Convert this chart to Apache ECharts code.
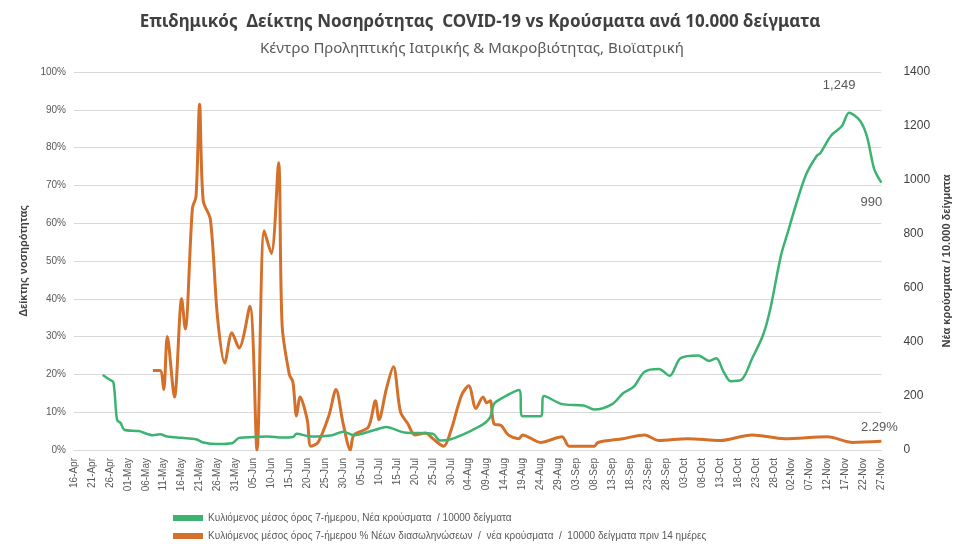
<!DOCTYPE html>
<html lang="el">
<head>
  <meta charset="UTF-8" />
  <title>Επιδημικός Δείκτης Νοσηρότητας</title>
  <script src="https://cdn.jsdelivr.net/npm/echarts@6/dist/echarts.min.js"></script>
  <style>
    html, body { margin: 0; padding: 0; background: #fff; }
    #main { width: 960px; height: 557px; }
  </style>
</head>
<body>
  <div id="main"></div>
  <script type="text/javascript">
    // ημερομηνίες από 16-Apr έως 27-Nov
    var months = ['Jan', 'Feb', 'Mar', 'Apr', 'May', 'Jun', 'Jul', 'Aug', 'Sep', 'Oct', 'Nov', 'Dec'];
    var dates = [];
    for (var i = 0; i <= 225; i++) {
      var dt = new Date(2020, 3, 16 + i);
      var dd = dt.getDate();
      dates.push((dd < 10 ? '0' + dd : dd) + '-' + months[dt.getMonth()]);
    }

    // [δείκτης ημέρας, τιμή] - κρούσματα / 10000 δείγματα (δεξιός άξονας)
    var casesData = [
      [8, 278], [10, 260], [11, 250], [12, 111], [13, 100], [14, 75], [18, 70], [22, 55],
      [24, 58], [26, 50], [30, 45], [34, 40], [36, 28], [40, 22], [44, 25], [46, 45],
      [50, 48], [54, 50], [58, 46], [61, 48], [62, 60], [66, 50], [72, 55], [75, 68],
      [78, 55], [84, 75], [87, 85], [92, 65], [100, 60], [102, 35], [105, 40], [108, 55],
      [111, 74], [114, 95], [116, 122], [117, 170], [119, 190], [124, 222], [125, 125],
      [130, 125], [131, 200], [136, 170], [142, 165], [145, 150], [150, 170], [153, 210],
      [156, 235], [159, 290], [163, 300], [166, 275], [169, 340], [174, 350], [177, 330],
      [179, 340], [181, 290], [183, 255], [186, 260], [189, 340], [192, 425], [194, 520],
      [197, 720], [199, 810], [201, 900], [204, 1020], [207, 1090], [208, 1100],
      [211, 1165], [214, 1200], [216, 1249], [219, 1220], [221, 1160], [223, 1040], [225, 990]
    ];

    // [δείκτης ημέρας, %] - δείκτης νοσηρότητας (αριστερός άξονας)
    var rateData = [
      [22, 21], [24, 21], [25, 16], [26, 30], [28, 14], [30, 40], [31, 32], [33, 64],
      [34, 67], [35, 91.5], [36, 66], [38, 61], [40, 35], [42, 23], [44, 31], [46, 27],
      [49, 38], [51, 0], [53, 58], [55, 52], [57, 76], [58, 33], [60, 20], [61, 18],
      [62, 9], [63, 14], [65, 8], [66, 1], [68, 2], [71, 9], [73, 16], [75, 7], [77, 0],
      [78, 4], [82, 6], [84, 13], [85, 8], [87, 16], [89, 22], [91, 10], [93, 7], [95, 4],
      [98, 4.5], [100, 3], [103, 1], [105, 5], [108, 14.5], [110, 17], [112, 11],
      [114, 14], [115, 12.5], [116, 13], [117, 7], [119, 6.5], [121, 4], [124, 3],
      [125, 4], [130, 2], [136, 3.5], [138, 1], [145, 1], [146, 2], [153, 3], [159, 4],
      [163, 2.5], [171, 3], [180, 2.5], [189, 4], [198, 3], [210, 3.5], [217, 2], [225, 2.29]
    ];

    var peakIdx = 216, lastIdx = 225;
    var lblStyle = { show: true, color: '#595959', fontSize: 13 };

    var casesSeries = casesData.map(function (p) {
      if (p[0] === peakIdx) {
        return { value: p, label: Object.assign({ formatter: '1,249', position: 'top', offset: [-10, -16] }, lblStyle) };
      }
      if (p[0] === lastIdx) {
        return { value: p, label: Object.assign({ formatter: '990', position: 'bottom', offset: [-10, 8] }, lblStyle) };
      }
      return p;
    });
    var rateSeries = rateData.map(function (p) {
      if (p[0] === lastIdx) {
        return { value: p, label: Object.assign({ formatter: '2.29%', position: 'top', offset: [-2, -2] }, lblStyle) };
      }
      return p;
    });

    var myChart = echarts.init(document.getElementById('main'));
    var option = {
      animation: false,
      title: [
        {
          text: 'Επιδημικός  Δείκτης Νοσηρότητας  COVID-19 vs Κρούσματα ανά 10.000 δείγματα',
          left: 'center', top: 9,
          textStyle: { fontSize: 17, fontWeight: 'bold', color: '#404040', fontFamily: 'Noto Sans' }
        },
        {
          text: 'Κέντρο Προληπτικής Ιατρικής & Μακροβιότητας, Βιοϊατρική',
          left: 255, top: 36,
          textStyle: { fontSize: 15, fontWeight: 'normal', color: '#595959', fontFamily: 'Noto Sans' }
        }
      ],
      legend: {
        orient: 'vertical', left: 168, top: 508, itemGap: 8,
        itemWidth: 30, itemHeight: 6, icon: 'rect',
        textStyle: { fontSize: 10, color: '#595959' },
        data: [
          { name: 'Κυλιόμενος μέσος όρος 7-ήμερου, Νέα κρούσματα  / 10000 δείγματα', itemStyle: { color: '#3cb371' } },
          { name: 'Κυλιόμενος μέσος όρος 7-ήμερου % Νέων διασωληνώσεων  /  νέα κρούσματα  /  10000 δείγματα πριν 14 ημέρες', itemStyle: { color: '#d4702a' } }
        ]
      },
      grid: { left: 74, right: 78, top: 72, bottom: 107 },
      xAxis: {
        type: 'category', data: dates, boundaryGap: false,
        axisLine: { lineStyle: { color: '#d9d9d9' } },
        axisTick: { show: false },
        axisLabel: { interval: 4, rotate: 90, fontSize: 10, color: '#595959' }
      },
      yAxis: [
        {
          type: 'value', min: 0, max: 100, interval: 10,
          name: 'Δείκτης νοσηρότητας', nameLocation: 'middle', nameGap: 44, nameRotate: 90,
          nameTextStyle: { fontSize: 11, fontWeight: 'bold', color: '#404040' },
          axisLabel: { formatter: '{value}%', fontSize: 10, color: '#595959' },
          splitLine: { lineStyle: { color: '#d9d9d9' } },
          axisLine: { show: false }, axisTick: { show: false }
        },
        {
          type: 'value', min: 0, max: 1400, interval: 200,
          name: 'Νέα κρούσματα / 10.000 δείγματα', nameLocation: 'middle', nameGap: 48, nameRotate: 90,
          nameTextStyle: { fontSize: 11, fontWeight: 'bold', color: '#404040' },
          axisLabel: { formatter: function (v) { return String(v); }, fontSize: 12, color: '#404040', margin: 22 },
          splitLine: { show: false },
          axisLine: { show: false }, axisTick: { show: false }
        }
      ],
      series: [
        {
          name: 'Κυλιόμενος μέσος όρος 7-ήμερου, Νέα κρούσματα  / 10000 δείγματα',
          type: 'line', yAxisIndex: 1, data: casesSeries, showSymbol: true, symbolSize: 0, smooth: 0.3,
          lineStyle: { color: '#3cb371', width: 2.5 }, itemStyle: { color: '#3cb371' }, z: 3
        },
        {
          name: 'Κυλιόμενος μέσος όρος 7-ήμερου % Νέων διασωληνώσεων  /  νέα κρούσματα  /  10000 δείγματα πριν 14 ημέρες',
          type: 'line', yAxisIndex: 0, data: rateSeries, showSymbol: true, symbolSize: 0, smooth: 0.3,
          lineStyle: { color: '#d4702a', width: 3 }, itemStyle: { color: '#d4702a' }, z: 2
        }
      ]
    };
    myChart.setOption(option);
  </script>
</body>
</html>
